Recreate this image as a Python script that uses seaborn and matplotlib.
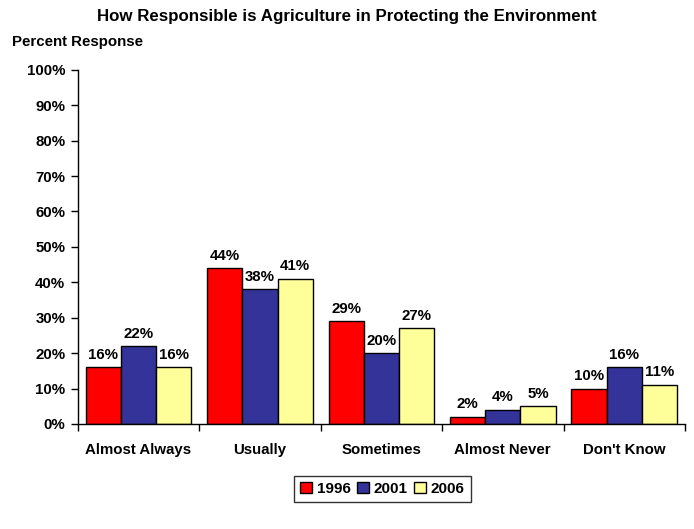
import matplotlib
matplotlib.use("Agg")
import matplotlib.pyplot as plt
from matplotlib.ticker import FixedLocator, PercentFormatter
from matplotlib.patches import Patch
import seaborn as sns
import pandas as pd

categories = ["Almost Always", "Usually", "Sometimes", "Almost Never", "Don't Know"]
years = ["1996", "2001", "2006"]
values_1996 = [16, 44, 29, 2, 10]
values_2001 = [22, 38, 20, 4, 16]
values_2006 = [16, 41, 27, 5, 11]
colors = ["#FF0000", "#333399", "#FFFF99"]

rows = []
for year, vals in zip(years, [values_1996, values_2001, values_2006]):
    for cat, v in zip(categories, vals):
        rows.append({"category": cat, "year": year, "value": v})
df = pd.DataFrame(rows)

sns.set_theme(style="white")
plt.rcParams["font.family"] = ["Liberation Sans", "DejaVu Sans"]
plt.rcParams["font.weight"] = "bold"
plt.rcParams["text.color"] = "black"
plt.rcParams["xtick.color"] = "black"
plt.rcParams["ytick.color"] = "black"
plt.rcParams["axes.labelcolor"] = "black"

fs_tick = 10.8
fs_title = 12.2

fig = plt.figure(figsize=(6.94, 5.29), dpi=100)
ax = fig.add_axes([0.112, 0.1985, 0.875, 0.6695])

sns.barplot(data=df, x="category", y="value", hue="year", order=categories,
            hue_order=years, palette=colors, width=0.87, edgecolor="black",
            linewidth=1.0, saturation=1, legend=False, ax=ax)

for cont in ax.containers:
    ax.bar_label(cont, fmt="%d%%", padding=4, fontsize=fs_tick, fontweight="bold",
                 color="black")

ax.set_ylim(0, 100)
ax.set_xlim(-0.5, len(categories) - 0.5)
ax.yaxis.set_major_locator(FixedLocator(range(0, 101, 10)))
ax.yaxis.set_major_formatter(PercentFormatter(decimals=0))
ax.set_xlabel("")
ax.set_ylabel("")

for side in ["top", "right"]:
    ax.spines[side].set_visible(False)
for side in ["left", "bottom"]:
    ax.spines[side].set_color("black")
    ax.spines[side].set_linewidth(1.0)

# category boundaries carry the x tick marks
ax.set_xticks([i - 0.5 for i in range(len(categories) + 1)], minor=True)
ax.tick_params(axis="x", which="major", length=0, pad=14, labelsize=fs_tick,
               labelcolor="black")
ax.tick_params(axis="x", which="minor", length=5, width=1, color="black",
               direction="out", bottom=True)
ax.tick_params(axis="y", which="major", length=5, width=1, color="black",
               direction="out", left=True, labelsize=fs_tick, pad=4,
               labelcolor="black")
for lbl in ax.get_xticklabels() + ax.get_yticklabels():
    lbl.set_fontweight("bold")

fig.text(0.5, 0.968, "How Responsible is Agriculture in Protecting the Environment",
         ha="center", va="center", fontsize=fs_title, fontweight="bold", color="black")
fig.text(0.017, 0.921, "Percent Response", ha="left", va="center",
         fontsize=fs_tick, fontweight="bold", color="black")

handles = [Patch(facecolor=c, edgecolor="black", linewidth=1) for c in colors]
leg = fig.legend(handles, years, loc="center", bbox_to_anchor=(0.551, 0.076),
                 ncol=3, frameon=True, fancybox=False, handlelength=0.8,
                 handleheight=0.8, handletextpad=0.3, columnspacing=0.4,
                 borderpad=0.4, prop={"weight": "bold", "size": 11})
leg.get_frame().set_edgecolor("black")
leg.get_frame().set_linewidth(1.0)
for t in leg.get_texts():
    t.set_color("black")

fig.savefig("out.png", dpi=100)
